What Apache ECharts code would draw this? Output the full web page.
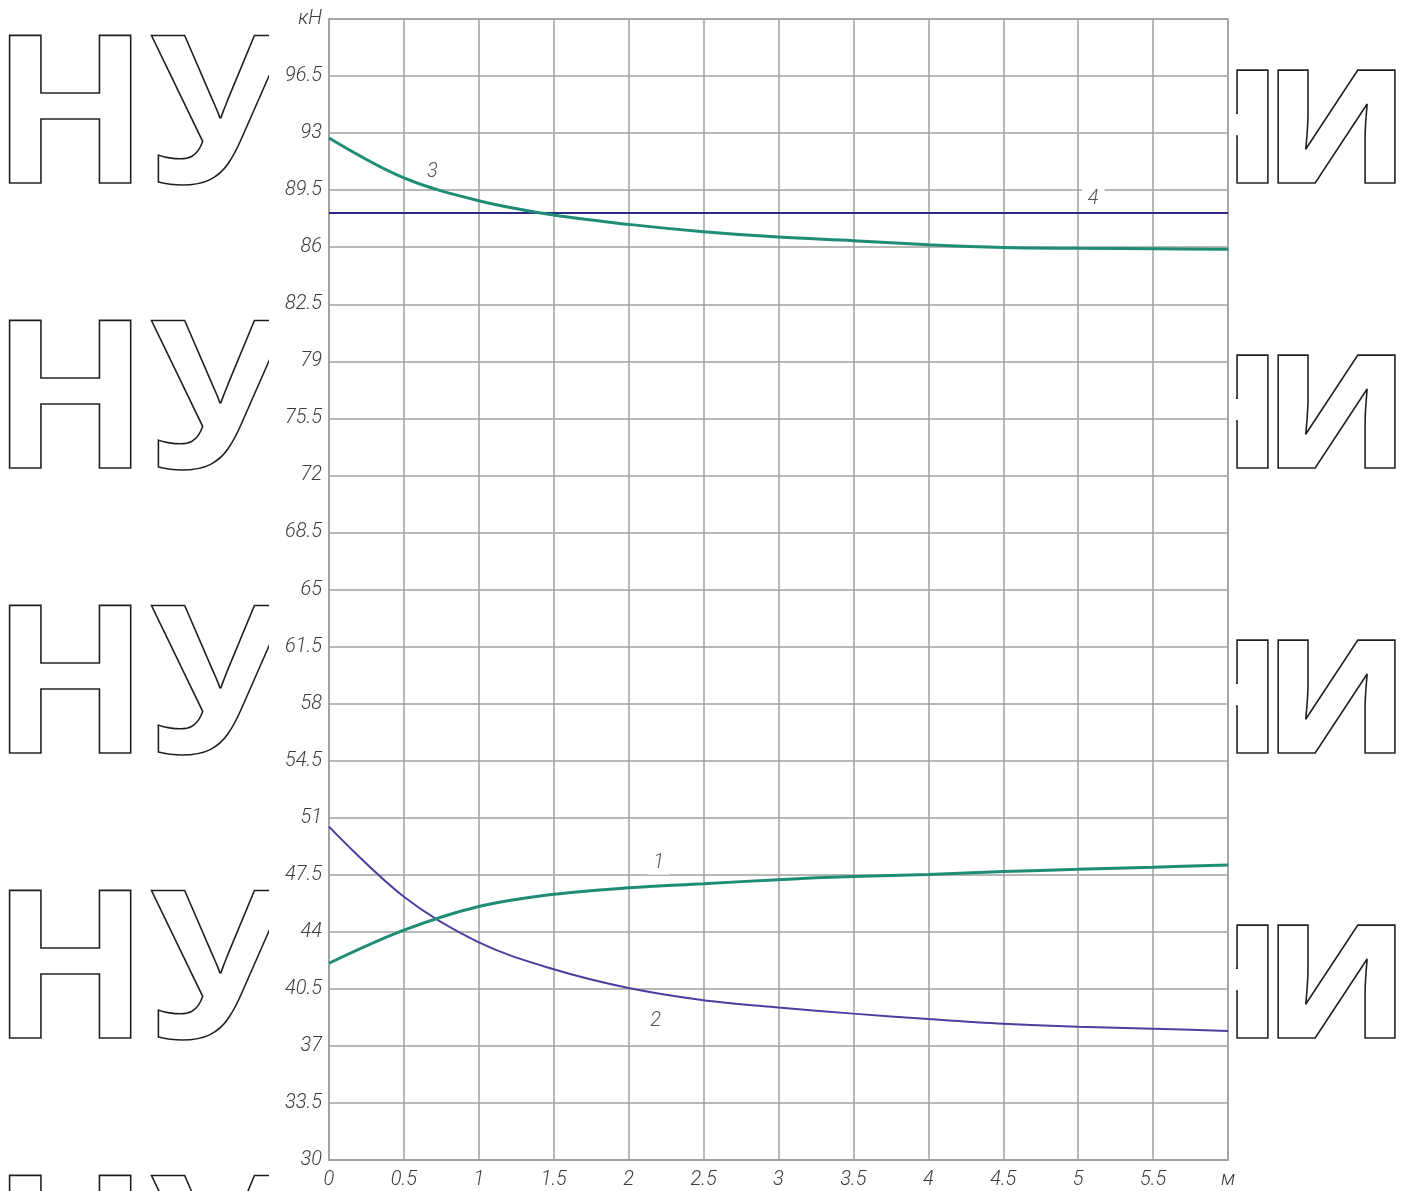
<!DOCTYPE html>
<html>
<head>
<meta charset="utf-8">
<title>Зусилля</title>
<script src="https://cdn.jsdelivr.net/npm/echarts@6/dist/echarts.min.js"></script>
<style>
  html, body { margin: 0; padding: 0; background: #fff; }
  #chart { width: 1406px; height: 1191px; }
</style>
</head>
<body>
<div id="chart"></div>
<script>
// Distance along the element, м
const xValues = [0, 0.5, 1, 1.5, 2, 2.5, 3, 3.5, 4, 4.5, 5, 5.5, 6];

// Forces, кН
const curve1 = [42.07, 44.1, 45.55, 46.3, 46.7, 46.95, 47.2, 47.4, 47.52, 47.7, 47.83, 47.96, 48.1];
const curve2 = [50.45, 46.15, 43.35, 41.7, 40.55, 39.8, 39.35, 38.98, 38.65, 38.36, 38.17, 38.05, 37.92];
const curve3 = [92.7, 90.25, 88.85, 87.97, 87.4, 86.95, 86.62, 86.4, 86.15, 85.98, 85.93, 85.9, 85.87];
const level4 = [88.1, 88.1];
const level4X = [0, 6];

// Axis tick labels
const yTickLabels = ['30', '33.5', '37', '40.5', '44', '47.5', '51', '54.5', '58', '61.5', '65',
  '68.5', '72', '75.5', '79', '82.5', '86', '89.5', '93', '96.5', 'кН'];
const xTickLabels = ['0', '0.5', '1', '1.5', '2', '2.5', '3', '3.5', '4', '4.5', '5', '5.5', 'м'];

const Y_MIN = 30, Y_MAX = 100, Y_STEP = 3.5;
const X_MIN = 0, X_MAX = 6, X_STEP = 0.5;

const pairs = (xs, ys) => xs.map((x, i) => [x, ys[i]]);

const gridColor = '#a0a0a0';
const tealColor = '#1f8c78';
const violetColor = '#4a3f9e';
const navyColor = '#2d2884';
const labelFont = { fontFamily: 'Roboto', fontStyle: 'italic', fontWeight: 300, fontSize: 20, color: '#3c3c3c' };

// Curve number tag placed at a data coordinate
function tag(text, coord, withBg) {
  return {
    symbol: 'circle', symbolSize: 0, silent: true,
    data: [{ coord: coord, value: text }],
    label: Object.assign({
      show: true, position: 'inside', formatter: text,
      backgroundColor: withBg ? '#fff' : 'transparent', padding: [2, 6]
    }, labelFont, { color: '#555' })
  };
}

// Background lettering in the page margins
const watermarkFont = 'bold 207px "Open Sans"';
const rowStep = 285;
const outline = { fill: 'rgba(0,0,0,0)', stroke: '#1e1e1e', lineWidth: 1.6, verticalAlign: 'middle', font: watermarkFont };
const watermark = [];
for (let r = 0; r < 5; r++) {
  const y = 124 + r * rowStep;
  watermark.push({ type: 'text', z: -10, silent: true, x: -9, y: y,
    style: Object.assign({ text: 'НУ', align: 'left' }, outline) });
  watermark.push({ type: 'text', z: -10, silent: true, x: 1284, y: y,
    style: Object.assign({ text: 'н', align: 'right' }, outline) });
  watermark.push({ type: 'text', z: -10, silent: true, x: 1411, y: y,
    style: Object.assign({ text: 'и', align: 'right' }, outline) });
}
watermark.push({
  type: 'rect', z: -5, silent: true,
  shape: { x: 269, y: 0, width: 1236 - 269, height: 1191 },
  style: { fill: '#fff' }
});

const chart = echarts.init(document.getElementById('chart'), null, { renderer: 'canvas' });
chart.setOption({
  backgroundColor: '#fff',
  animation: false,
  graphic: { elements: watermark },
  grid: {
    left: 329, right: 178, top: 19, bottom: 31,
    show: true, borderColor: gridColor, borderWidth: 1.5, backgroundColor: 'transparent'
  },
  xAxis: {
    type: 'value', min: X_MIN, max: X_MAX, interval: X_STEP,
    axisLine: { show: true, lineStyle: { color: gridColor, width: 1.5 } },
    axisTick: { show: false },
    splitLine: { show: true, lineStyle: { color: gridColor, width: 1.5 } },
    axisLabel: Object.assign({
      margin: 10, showMinLabel: true, showMaxLabel: true,
      formatter: v => xTickLabels[Math.round((v - X_MIN) / X_STEP)]
    }, labelFont)
  },
  yAxis: {
    type: 'value', min: Y_MIN, max: Y_MAX, interval: Y_STEP,
    axisLine: { show: true, lineStyle: { color: gridColor, width: 1.5 } },
    axisTick: { show: false },
    splitLine: { show: true, lineStyle: { color: gridColor, width: 1.5 } },
    axisLabel: Object.assign({
      margin: 7, showMinLabel: true, showMaxLabel: true,
      formatter: v => yTickLabels[Math.round((v - Y_MIN) / Y_STEP)]
    }, labelFont)
  },
  series: [
    {
      name: '4', type: 'line', data: pairs(level4X, level4), showSymbol: false,
      lineStyle: { color: navyColor, width: 2 }, z: 3,
      markPoint: tag('4', [5.1, 88.95], true)
    },
    {
      name: '3', type: 'line', data: pairs(xValues, curve3), smooth: 0.35, showSymbol: false,
      lineStyle: { color: tealColor, width: 3 }, z: 4,
      markPoint: tag('3', [0.69, 90.6], false)
    },
    {
      name: '1', type: 'line', data: pairs(xValues, curve1), smooth: 0.35, showSymbol: false,
      lineStyle: { color: tealColor, width: 3 }, z: 4,
      markPoint: tag('1', [2.2, 48.25], true)
    },
    {
      name: '2', type: 'line', data: pairs(xValues, curve2), smooth: 0.35, showSymbol: false,
      lineStyle: { color: violetColor, width: 2 }, z: 3,
      markPoint: tag('2', [2.18, 38.5], false)
    }
  ]
});
</script>
</body>
</html>
